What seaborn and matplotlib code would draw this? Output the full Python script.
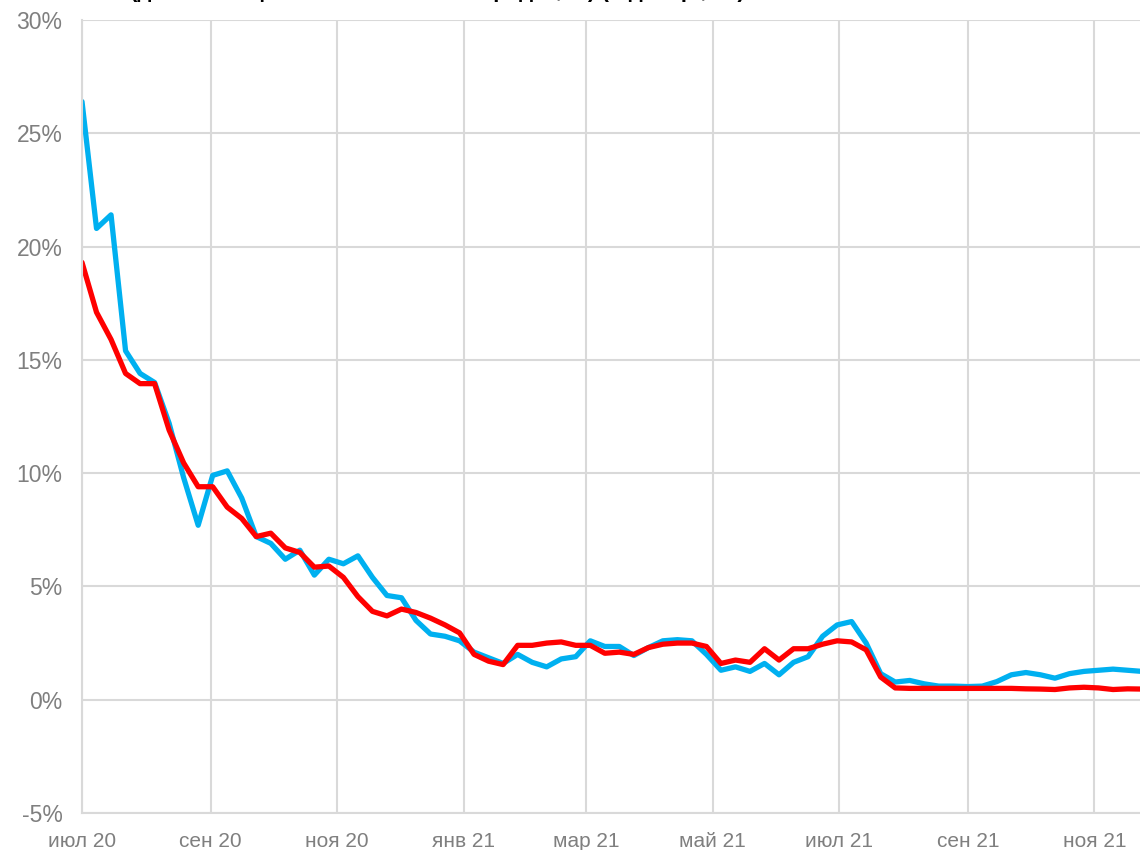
import numpy as np
import pandas as pd
import matplotlib
matplotlib.use("Agg")
import matplotlib.pyplot as plt
import matplotlib.dates as mdates
import seaborn as sns

# weekly observations starting 1 Jul 2020
start_date = "2020-07-01"
n_weeks = 74
blue_vals = [26.4, 20.8, 21.4, 15.4, 14.4, 14.0, 12.2, 9.8, 7.7, 9.9,
             10.1, 8.9, 7.2, 6.9, 6.2, 6.6, 5.5, 6.2, 6.0, 6.35,
             5.4, 4.6, 4.5, 3.5, 2.9, 2.8, 2.6, 2.1, 1.85, 1.6,
             2.0, 1.65, 1.45, 1.8, 1.9, 2.6, 2.35, 2.35, 1.95, 2.3,
             2.6, 2.65, 2.6, 2.0, 1.3, 1.45, 1.25, 1.6, 1.1, 1.65,
             1.9, 2.8, 3.3, 3.45, 2.5, 1.15, 0.78, 0.85, 0.7, 0.6,
             0.6, 0.58, 0.6, 0.8, 1.1, 1.2, 1.1, 0.95, 1.15, 1.25,
             1.3, 1.35, 1.3, 1.25]
red_vals = [19.3, 17.1, 15.9, 14.4, 13.95, 13.95, 11.9, 10.45, 9.4, 9.4,
            8.5, 8.0, 7.2, 7.35, 6.7, 6.5, 5.85, 5.9, 5.4, 4.55,
            3.9, 3.7, 4.0, 3.85, 3.6, 3.3, 2.95, 2.0, 1.7, 1.55,
            2.4, 2.4, 2.5, 2.55, 2.4, 2.4, 2.05, 2.1, 2.0, 2.3,
            2.45, 2.5, 2.5, 2.35, 1.6, 1.75, 1.65, 2.25, 1.75, 2.25,
            2.25, 2.45, 2.6, 2.55, 2.2, 1.0, 0.52, 0.5, 0.5, 0.5,
            0.5, 0.5, 0.5, 0.5, 0.5, 0.48, 0.47, 0.45, 0.52, 0.55,
            0.52, 0.45, 0.48, 0.47]

tick_dates = ["2020-07-01", "2020-09-01", "2020-11-01", "2021-01-01", "2021-03-01",
              "2021-05-01", "2021-07-01", "2021-09-01", "2021-11-01"]
tick_labels = ["июл 20", "сен 20", "ноя 20", "янв 21", "мар 21",
               "май 21", "июл 21", "сен 21", "ноя 21"]
y_ticks = [-5, 0, 5, 10, 15, 20, 25, 30]
y_labels = ["-5%", "0%", "5%", "10%", "15%", "20%", "25%", "30%"]
title_text = "(доля в общем числе заявок на кредит, %) (7-дн. ср., г/г)"

dates = pd.date_range(start_date, periods=n_weeks, freq="7D")
df = pd.DataFrame({"date": dates, "blue": blue_vals, "red": red_vals})

sns.set_theme(style="white")
plt.rcParams["font.family"] = ["Liberation Sans", "DejaVu Sans"]

fig = plt.figure(figsize=(11.4, 8.5), dpi=100)
ax = fig.add_axes([82 / 1140, 1 - 813 / 850, 1 - 82 / 1140, (813 - 20) / 850])

sns.lineplot(data=df, x="date", y="blue", ax=ax, color="#00B0F0", linewidth=3.8,
             solid_capstyle="round", solid_joinstyle="round")
sns.lineplot(data=df, x="date", y="red", ax=ax, color="#FF0000", linewidth=3.8,
             solid_capstyle="round", solid_joinstyle="round")

ax.set_xlim(pd.Timestamp(start_date), pd.Timestamp(start_date) + pd.Timedelta(days=510))
ax.set_ylim(-5, 30)
ax.set_yticks(y_ticks)
ax.set_yticklabels(y_labels)
ax.set_xticks(pd.to_datetime(tick_dates))
ax.set_xticklabels(tick_labels)
ax.set_xlabel("")
ax.set_ylabel("")

ax.grid(True, color="#d9d9d9", linewidth=1.5)
ax.set_axisbelow(True)
for s in ["top", "right"]:
    ax.spines[s].set_visible(False)
for s in ["left", "bottom"]:
    ax.spines[s].set_color("#d9d9d9")
    ax.spines[s].set_linewidth(1.5)
ax.tick_params(axis="both", length=0, labelcolor="#7f7f7f")
ax.tick_params(axis="y", pad=14, labelsize=16.5)
ax.tick_params(axis="x", pad=14, labelsize=15)

fig.text(130 / 1140, 1 + 3 / 850, title_text, fontsize=16, fontweight="bold",
         color="black", ha="left", va="baseline")

fig.savefig("out.png", dpi=100, facecolor="white")
